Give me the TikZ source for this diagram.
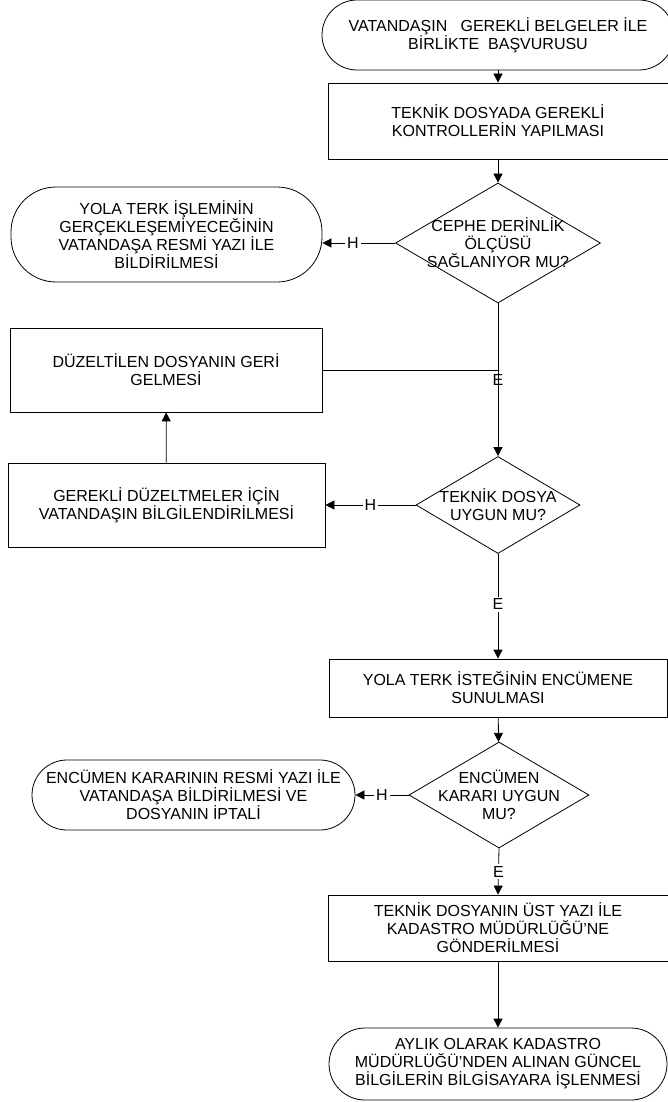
\documentclass[tikz,border=0pt]{standalone}
\usepackage{fontspec}
\setmainfont{Liberation Sans}
\usetikzlibrary{shapes.geometric,arrows.meta}
\begin{document}
\begin{tikzpicture}[x=1pt,y=-1pt,line width=0.8pt,
  >={Triangle[length=9pt,width=9pt]},
  every node/.style={font=\fontsize{16}{18}\selectfont,align=center,inner sep=0pt},
  terminal/.style={draw,rectangle,rounded corners=#1},
  terminal/.default=35pt,
  process/.style={draw,rectangle},
  decision/.style={draw,diamond},
  lbl/.style={fill=white,inner sep=2pt}]
  \useasboundingbox (0,0) rectangle (667,1102);
  % main column
  \node[terminal,minimum width=352pt,minimum height=70pt] (start) at (498,35)
    {VATANDAŞIN\ \ \ GEREKLİ BELGELER İLE\\BİRLİKTE\ \ BAŞVURUSU};
  \node[process,minimum width=340pt,minimum height=76pt] (check) at (498,121)
    {TEKNİK DOSYADA GEREKLİ\\KONTROLLERİN YAPILMASI};
  \node[decision,minimum width=205pt,minimum height=120pt] (d1) at (498,243) {};
  \node (d1t) at (d1) {CEPHE DERİNLİK\\ÖLÇÜSÜ\\SAĞLANIYOR MU?};
  \node[decision,minimum width=164pt,minimum height=97pt] (d2) at (498,505) {};
  \node (d2t) at (d2) {TEKNİK DOSYA\\UYGUN MU?};
  \node[process,minimum width=338pt,minimum height=58pt] (submit) at (498,688)
    {YOLA TERK İSTEĞİNİN ENCÜMENE\\SUNULMASI};
  \node[decision,minimum width=180pt,minimum height=106pt] (d3) at (499,795) {};
  \node (d3t) at (d3) {ENCÜMEN\\KARARI UYGUN\\MU?};
  \node[process,minimum width=340pt,minimum height=66pt] (send) at (498,928)
    {TEKNİK DOSYANIN ÜST YAZI İLE\\KADASTRO MÜDÜRLÜĞÜ’NE\\GÖNDERİLMESİ};
  \node[terminal=36pt,minimum width=338pt,minimum height=72pt] (finish) at (498,1064)
    {AYLIK OLARAK KADASTRO\\MÜDÜRLÜĞÜ’NDEN ALINAN GÜNCEL\\BİLGİLERİN BİLGİSAYARA İŞLENMESİ};
  % left column
  \node[terminal=45pt,minimum width=311pt,minimum height=95pt] (reject) at (166.5,234.5)
    {YOLA TERK İŞLEMİNİN\\GERÇEKLEŞEMİYECEĞİNİN\\VATANDAŞA RESMİ YAZI İLE\\BİLDİRİLMESİ};
  \node[process,minimum width=312pt,minimum height=84pt] (back) at (166,370)
    {DÜZELTİLEN DOSYANIN GERİ\\GELMESİ};
  \node[process,minimum width=317pt,minimum height=84pt] (inform) at (166.5,505)
    {GEREKLİ DÜZELTMELER İÇİN\\VATANDAŞIN BİLGİLENDİRİLMESİ};
  \node[terminal,minimum width=323pt,minimum height=70pt] (cancel) at (193.5,795)
    {ENCÜMEN KARARININ RESMİ YAZI İLE\\VATANDAŞA BİLDİRİLMESİ VE\\DOSYANIN İPTALİ};
  % connectors
  \draw[->] (start) -- (check);
  \draw[->] (check) -- (d1);
  \draw[->] (d1.west) -- node[lbl,pos=0.58]{H} (d1.west -| reject.east);
  \draw[->] (d1.south) -- node[pos=0.5]{E} (d2.north);
  \draw (back.east) -- (back.east -| d1.south);
  \draw[->] (d2.west) -- node[lbl,pos=0.5]{H} (d2.west -| inform.east);
  \draw[->] (inform) -- (back);
  \draw[->] (d2.south) -- node[lbl,pos=0.48]{E} (submit.north);
  \draw[->] (submit) -- (d3);
  \draw[->] (d3.west) -- node[lbl,pos=0.5]{H} (d3.west -| cancel.east);
  \draw[->] (d3.south) -- node[lbl,pos=0.51]{E} (send.north);
  \draw[->] (send) -- (finish);
\end{tikzpicture}
\end{document}
